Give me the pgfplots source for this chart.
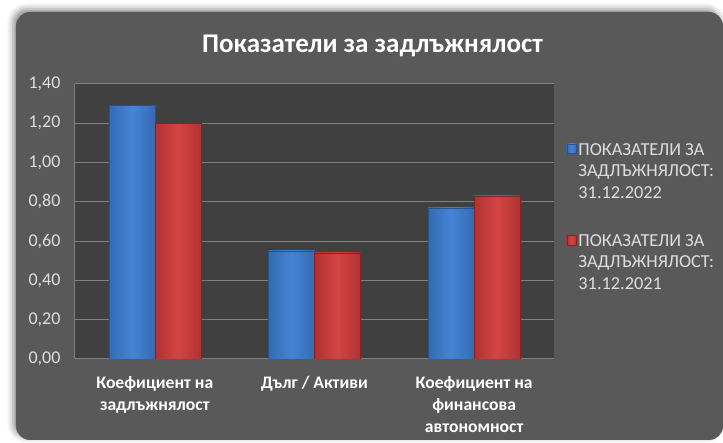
\documentclass[border=0pt]{standalone}
\usepackage{pgfplots}
\pgfplotsset{compat=1.18}
\usepackage{fontspec}
\setmainfont{Carlito}
\usetikzlibrary{shadows.blur}
\definecolor{bgc}{RGB}{89,89,89}
\definecolor{plotc}{RGB}{64,64,64}
\definecolor{gridc}{RGB}{128,128,128}
\definecolor{blueM}{RGB}{68,132,212}
\definecolor{blueE}{RGB}{54,106,180}
\definecolor{blueD}{RGB}{40,82,142}
\definecolor{redM}{RGB}{212,68,68}
\definecolor{redE}{RGB}{176,50,50}
\definecolor{redD}{RGB}{130,36,36}
\definecolor{tickc}{RGB}{222,222,222}
\pgfplotsset{
  bluebar/.style={draw=blueD, left color=blueE, right color=blueE, middle color=blueM, bar shift=-23pt},
  redbar/.style={draw=redD, left color=redE, right color=redE, middle color=redM, bar shift=23pt},
}
\begin{document}
\begin{tikzpicture}
\path[use as bounding box] (-75pt,-84pt) rectangle (648pt,359pt);
\fill[bgc, rounded corners=14pt, blur shadow={shadow xshift=-3pt, shadow yshift=3pt, shadow blur radius=6pt, shadow opacity=45}] (-59pt,-81pt) rectangle (648pt,347pt);
\begin{axis}[
  scale only axis, width=479pt, height=275pt,
  at={(0pt,0pt)}, anchor=south west,
  ymin=0, ymax=1.4,
  xmin=-0.5, xmax=2.5,
  ytick={0,0.2,0.4,0.6,0.8,1.0,1.2,1.4},
  xtick={0,1,2},
  xticklabels={{Коефициент на\\задлъжнялост},{Дълг / Активи},{Коефициент на\\финансова\\автономност}},
  axis background/.style={fill=plotc},
  ymajorgrids, grid style={gridc, line width=1pt},
  axis lines*=left, axis line style={gridc, line width=1pt, -},
  major tick length=0pt,
  tick style={draw=none},
  ybar, bar width=46pt,
  /pgf/number format/assume math mode=true,
  yticklabel style={font=\fontsize{18}{20}\selectfont, text=tickc, anchor=east, xshift=-11pt, /pgf/number format/.cd, fixed, fixed zerofill, precision=2, use comma},
  xticklabel style={font=\fontsize{17.6}{22}\selectfont\bfseries, text=white, align=center, anchor=north, yshift=-14pt},
  legend style={at={(1.0195,0.80)}, anchor=north west, draw=none, fill=none, font=\fontsize{18.3}{21.5}\selectfont, text=tickc, row sep=31pt, cells={align=left}},
  legend cell align=left,
  legend image code/.code={\draw[#1] (0pt,18pt) rectangle (9.5pt,27.5pt);},
]
\addplot[bluebar] coordinates {(0,1.29)};
\addlegendentry{ПОКАЗАТЕЛИ ЗА\\ЗАДЛЪЖНЯЛОСТ:\\31.12.2022}
\addplot[redbar] coordinates {(0,1.20)};
\addlegendentry{ПОКАЗАТЕЛИ ЗА\\ЗАДЛЪЖНЯЛОСТ:\\31.12.2021}
\addplot[bluebar, forget plot] coordinates {(1,0.55)};
\addplot[bluebar, forget plot] coordinates {(2,0.77)};
\addplot[redbar, forget plot] coordinates {(1,0.54)};
\addplot[redbar, forget plot] coordinates {(2,0.83)};
\end{axis}
\node[font=\fontsize{27}{30}\selectfont\bfseries, text=white, anchor=base] at (297.5pt,306pt) {Показатели за задлъжнялост};
\end{tikzpicture}
\end{document}
